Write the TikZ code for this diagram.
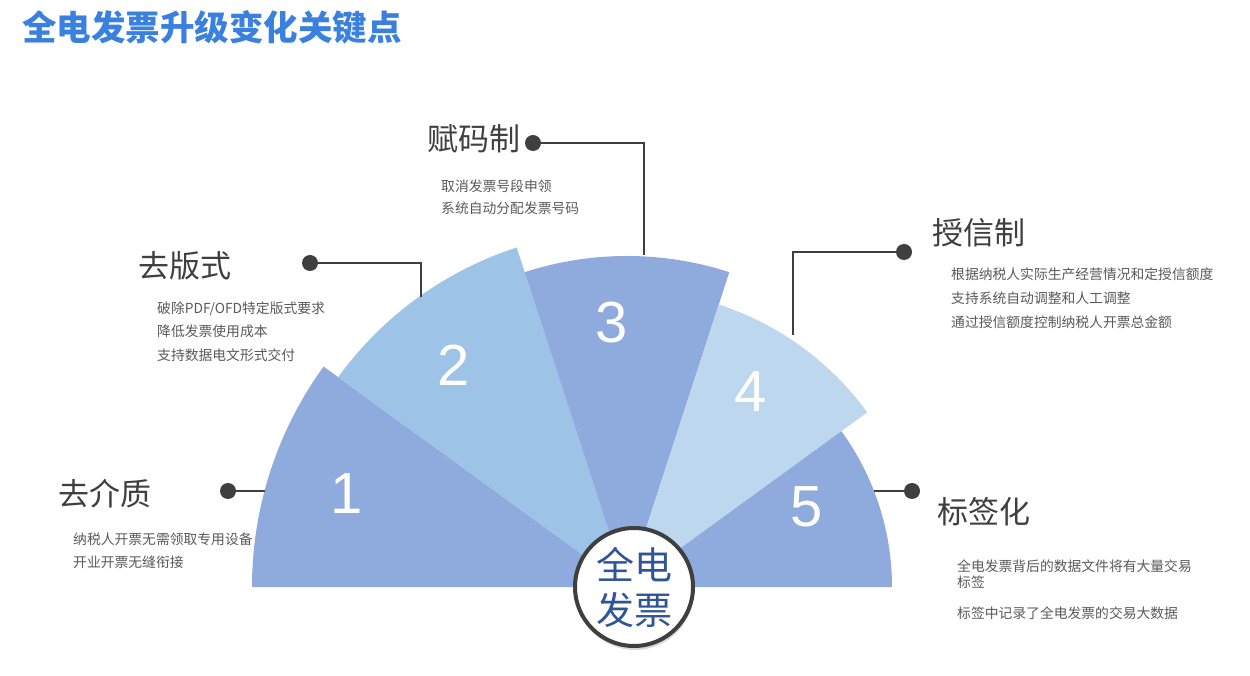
\documentclass[tikz,border=0pt]{standalone}
\usepackage{fontspec}
\setmainfont{Noto Sans CJK SC}
\newfontfamily\digitfont{Liberation Sans}
\usetikzlibrary{shadows}

\definecolor{fanmid}{HTML}{8FAADC}
\definecolor{fansky}{HTML}{9DC3E6}
\definecolor{fanpale}{HTML}{BDD7EE}
\definecolor{titleblue}{HTML}{3A80DE}
\definecolor{darkink}{HTML}{3F3F3F}
\definecolor{softink}{HTML}{595959}
\definecolor{hubblue}{HTML}{2F5597}

\tikzset{
	head/.style={inner sep=0pt, anchor=west, text=darkink, font=\fontsize{31}{31}\selectfont},
	desc/.style={inner sep=0pt, anchor=west, align=left, text=softink, font=\fontsize{13.8}{23.5}\selectfont},
	pin/.style={circle, fill=darkink, minimum size=16pt, inner sep=0pt},
	lead/.style={draw=darkink, line width=2pt},
	num/.style={inner sep=0pt, text=white, font=\digitfont\fontsize{58}{58}\selectfont},
}

\begin{document}
\begin{tikzpicture}[x=1pt,y=1pt]
	\useasboundingbox (0,0) rectangle (1250,675);
	\coordinate (c) at (627,88);

	% fan slices
	\foreach \from/\to/\r/\col in {180/144/375/fanmid, 144/108/357/fansky, 108/72/331/fanmid, 72/36/297/fanpale, 36/0/265/fanmid}{
			\fill[\col] (c) -- ++(\from:\r) arc[start angle=\from, end angle=\to, radius=\r] -- cycle;
		}

	\node[num] (n1) at (347,181) {1};
	\node[num] (n2) at (454,310) {2};
	\node[num] (n3) at (612,352) {3};
	\node[num] (n4) at (751,283) {4};
	\node[num] (n5) at (807,168) {5};

	% leader lines
	\node[pin] (p1) at (228,184) {};
	\node[pin] (p2) at (310,412) {};
	\node[pin] (p3) at (533,532) {};
	\node[pin] (p4) at (904,423) {};
	\node[pin] (p5) at (912,184) {};
	\coordinate (e1) at (265,184);
	\coordinate (e2) at (421,378);
	\coordinate (e3) at (644,420);
	\coordinate (e4) at (793,340);
	\coordinate (e5) at (874,184);

	\draw[lead] (p1) -- (e1);
	\draw[lead] (p2) -| (e2);
	\draw[lead] (p3) -| (e3);
	\draw[lead] (p4) -| (e4);
	\draw[lead] (p5) -- (e5);

	% hub
	\node[circle, draw=darkink, line width=4pt, fill=white, minimum size=118pt, inner sep=0pt,
		drop shadow={shadow xshift=1pt, shadow yshift=-4pt, opacity=0.3},
		text=hubblue, align=center, font=\fontsize{38}{45}\selectfont] (hub) at (634,88) {全电\\发票};

	% texts
	\node[inner sep=0pt, anchor=west, text=titleblue, font=\bfseries\fontsize{34.5}{34.5}\selectfont] (title) at (22,648) {全电发票升级变化关键点};

	\node[head] (h1) at (58,181) {去介质};
	\node[head] (h2) at (138,409) {去版式};
	\node[head] (h3) at (427,536) {赋码制};
	\node[head] (h4) at (932,442) {授信制};
	\node[head] (h5) at (937,163) {标签化};

	\node[desc, font=\fontsize{13.8}{23}\selectfont] (d1) at (73,124.5) {纳税人开票无需领取专用设备\\开业开票无缝衔接};
	\node[desc] (d2) at (157,343.5) {破除PDF/OFD特定版式要求\\降低发票使用成本\\支持数据电文形式交付};
	\node[desc, font=\fontsize{13.8}{22}\selectfont] (d3) at (441,478) {取消发票号段申领\\系统自动分配发票号码};
	\node[desc, font=\fontsize{13.8}{24}\selectfont] (d4) at (951,377) {根据纳税人实际生产经营情况和定授信额度\\支持系统自动调整和人工调整\\通过授信额度控制纳税人开票总金额};
	\node[desc, font=\fontsize{13.8}{16}\selectfont] (d5) at (957,85) {全电发票背后的数据文件将有大量交易\\标签\\[15pt]标签中记录了全电发票的交易大数据};
\end{tikzpicture}
\end{document}
